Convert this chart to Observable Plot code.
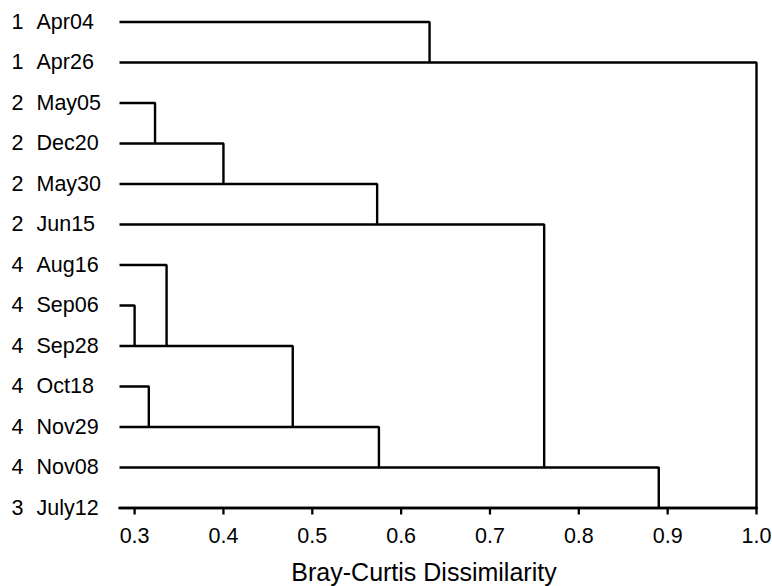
<!DOCTYPE html>
<html><head><meta charset="utf-8">
<script src="https://cdn.jsdelivr.net/npm/d3@7"></script>
<script src="https://cdn.jsdelivr.net/npm/@observablehq/plot@0.6"></script>
<style>body{margin:0;background:#fff;}</style>
</head><body><div id="chart"></div>
<script>
// Leaves (top to bottom)
const groups = ["1","1","2","2","2","2","4","4","4","4","4","4","3"];
const dates = ["Apr04","Apr26","May05","Dec20","May30","Jun15","Aug16","Sep06","Sep28","Oct18","Nov29","Nov08","July12"];
// Merges (hclust-style: -k = leaf k (1-based), +k = merge k)
const mergeLeft  = [-8, -10, -3, -7, 3, 4, 5, 6, -1, 7, 10, 9];
const mergeRight = [-9, -11, -4, 1, -5, 2, -6, -12, -2, 8, -13, 11];
const mergeHeight = [0.300, 0.316, 0.323, 0.336, 0.400, 0.478, 0.573, 0.575, 0.632, 0.761, 0.890, 1.000];
const xTicks = [0.3, 0.4, 0.5, 0.6, 0.7, 0.8, 0.9, 1.0];
const xLabel = "Bray-Curtis Dissimilarity";
const xMin = 0.283;

// Build elbow paths
const nodePos = [];
const pts = [];
mergeHeight.forEach((h, i) => {
  const pos = c => c < 0 ? {x: xMin, y: -c - 1} : nodePos[c - 1];
  const a = pos(mergeLeft[i]), b = pos(mergeRight[i]);
  pts.push({m: i, x: a.x, y: a.y}, {m: i, x: h, y: a.y}, {m: i, x: h, y: b.y}, {m: i, x: b.x, y: b.y});
  nodePos[i] = {x: h, y: Math.max(a.y, b.y)};
});
const leafIdx = dates.map((d, i) => i);

const chart = Plot.plot({
  width: 772, height: 586,
  marginLeft: 119, marginRight: 16, marginTop: 21.5, marginBottom: 78.5,
  style: {fontFamily: "'Liberation Sans', Arial, sans-serif", fontSize: "21.5px", color: "#000", background: "#fff"},
  x: {domain: [xMin, 1]},
  y: {domain: [0, dates.length - 1], reverse: true, axis: null},
  marks: [
    Plot.frame({anchor: "bottom", stroke: "#000", strokeWidth: 2.3}),
    Plot.axisX(xTicks, {tickSize: 7, tickPadding: 13, strokeWidth: 2.3, fontSize: 21.5, tickFormat: d => d.toFixed(1), label: null}),
    Plot.line(pts, {x: "x", y: "y", z: "m", stroke: "#000", strokeWidth: 2.4, strokeLinejoin: "miter", strokeLinecap: "butt"}),
    Plot.text(leafIdx, {y: d => d, text: d => groups[d], frameAnchor: "left", dx: -108, textAnchor: "start", fontSize: 21.5, fill: "#000"}),
    Plot.text(leafIdx, {y: d => d, text: d => dates[d], frameAnchor: "left", dx: -83, textAnchor: "start", fontSize: 21.5, fill: "#000"}),
    Plot.text([xLabel], {frameAnchor: "bottom", lineAnchor: "top", dy: 55, dx: -14, fontSize: 25, fill: "#000"})
  ]
});
document.getElementById("chart").append(chart);
</script>
</body></html>
